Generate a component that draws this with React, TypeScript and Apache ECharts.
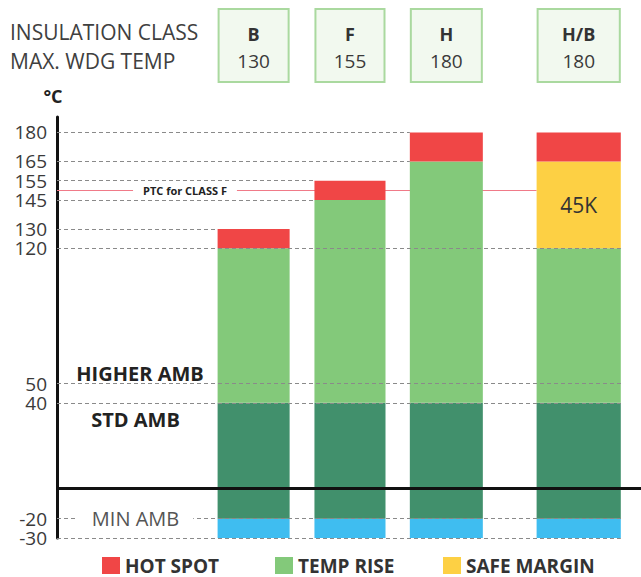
import React, { useEffect, useRef } from "react";
import * as echarts from "echarts";

// ---------- data ----------
const classes = ["B", "F", "H", "H/B"];
const maxWdgTemp = [130, 155, 180, 180];
const hotSpot = [10, 10, 15, 15];
const safeMargin = [0, 0, 0, 45];
const tempRise = [80, 105, 125, 80];
const stdAmbient = 40;
const higherAmbient = 50;
const minAmbient = -20;
const lowestTemp = -30;
const ptcClassF = 150;
const baselineTemp = -4;
const yTickLabels = [180, 165, 155, 145, 130, 120, 50, 40, -20, -30];
const noteTexts = ["HIGHER AMB", "STD AMB", "MIN AMB", "PTC for CLASS F"];
const noteTemps = [55, 31.5, minAmbient, ptcClassF];

// ---------- layout (x in slot units of the hidden value axis) ----------
const slotCenter = [2.02, 3.01, 4.0, 5.36];
const slotWidth = [0.74, 0.73, 0.75, 0.865];
const noteSlot = [0.853, 0.807, 0.807, 1.315];

const FONT = "'Open Sans', 'DejaVu Sans', sans-serif";
const COLORS = {
  cold: "#3fbdf0",
  ambient: "#41906c",
  rise: "#83c97a",
  margin: "#fdd044",
  hot: "#f04646",
};

const riseTop = tempRise.map((r) => stdAmbient + r);
const rect = (i: number, lo: number, hi: number) => [slotCenter[i], lo, hi, slotWidth[i], i];

const coldRows = classes.map((_, i) => rect(i, lowestTemp, minAmbient));
const ambientRows = classes.map((_, i) => rect(i, minAmbient, stdAmbient));
const riseRows = classes.map((_, i) => rect(i, stdAmbient, riseTop[i]));
const marginRows = classes
  .map((_, i) => rect(i, riseTop[i], riseTop[i] + safeMargin[i]))
  .filter((r) => r[2] > r[1]);
const hotRows = classes.map((_, i) => rect(i, maxWdgTemp[i] - hotSpot[i], maxWdgTemp[i]));

const lastIdx = classes.length - 1;
const fullRight = slotCenter[lastIdx] + slotWidth[lastIdx] / 2;
const minBody = Math.min(...riseTop);
const guideEnd = (level: number) => {
  if (level <= minBody) return fullRight;
  const i = maxWdgTemp.findIndex((m) => m >= level);
  return slotCenter[i] - slotWidth[i] / 2;
};

const barRender = (withLabel: boolean) => (params: any, api: any) => {
  const x = api.value(0);
  const lo = api.value(1);
  const hi = api.value(2);
  const w = api.value(3);
  const idx = api.value(4);
  const p1 = api.coord([x - w / 2, hi]);
  const p2 = api.coord([x + w / 2, lo]);
  const children: any[] = [
    {
      type: "rect",
      shape: { x: p1[0], y: p1[1], width: p2[0] - p1[0], height: p2[1] - p1[1] },
      style: { fill: api.visual("color") },
    },
  ];
  if (withLabel) {
    children.push({
      type: "text",
      x: (p1[0] + p2[0]) / 2,
      y: (p1[1] + p2[1]) / 2,
      style: {
        text: `${safeMargin[idx]}K`,
        align: "center",
        verticalAlign: "middle",
        fontSize: 21,
        fontFamily: FONT,
        fill: "#333",
      },
    });
  }
  return { type: "group", children };
};

const barSeries = (name: string, rows: any[], color: string, withLabel = false) => ({
  name,
  type: "custom",
  data: rows,
  encode: { x: 0, y: [1, 2] },
  itemStyle: { color },
  z: 2,
  silent: true,
  renderItem: barRender(withLabel),
});

export default function App() {
  const ref = useRef<HTMLDivElement>(null);
  useEffect(() => {
    if (!ref.current) return;
    const chart = echarts.init(ref.current, null, { renderer: "svg" });

    const guideLines = yTickLabels.map((lv) => [
      { coord: [0, lv] },
      { coord: [guideEnd(lv), lv] },
    ]);

    const option: any = {
      animation: false,
      backgroundColor: "#ffffff",
      grid: { left: 57, right: 0, top: 117, bottom: 39 },
      xAxis: {
        type: "value",
        min: 0,
        max: 6,
        show: false,
      },
      yAxis: {
        type: "value",
        min: lowestTemp,
        max: 188,
        name: "°C",
        nameLocation: "end",
        nameGap: 12,
        nameTextStyle: {
          fontFamily: FONT,
          fontSize: 18,
          fontWeight: "bold",
          color: "#222",
          align: "center",
          padding: [0, 8, 0, 0],
        },
        axisLine: { show: true, lineStyle: { color: "#111", width: 3 } },
        axisTick: { show: false },
        splitLine: { show: false },
        axisLabel: {
          customValues: yTickLabels,
          margin: 10,
          fontFamily: FONT,
          fontSize: 19,
          lineHeight: 16,
          color: "#3a3a3a",
          hideOverlap: false,
          showMinLabel: true,
          showMaxLabel: true,
        },
      },
      legend: [
        { name: "HOT SPOT", left: 102 },
        { name: "TEMP RISE", left: 275 },
        { name: "SAFE MARGIN", left: 443 },
      ].map((l) => ({
        data: [l.name],
        left: l.left,
        top: 556,
        padding: 0,
        icon: "rect",
        itemWidth: 18,
        itemHeight: 17,
        selectedMode: false,
        textStyle: { fontFamily: FONT, fontSize: 19, fontWeight: "bold", color: "#333", lineHeight: 17 },
      })),
      series: [
        // PTC line (behind bars)
        {
          type: "line",
          data: [],
          silent: true,
          z: 1,
          markLine: {
            z: 1,
            silent: true,
            symbol: "none",
            label: { show: false },
            lineStyle: { color: "#f07a88", width: 1, type: "solid" },
            data: [[{ coord: [0, ptcClassF] }, { coord: [slotCenter[lastIdx] - slotWidth[lastIdx] / 2, ptcClassF] }]],
          },
        },
        barSeries("COLD", coldRows, COLORS.cold),
        barSeries("AMBIENT", ambientRows, COLORS.ambient),
        barSeries("TEMP RISE", riseRows, COLORS.rise),
        barSeries("SAFE MARGIN", marginRows, COLORS.margin, true),
        barSeries("HOT SPOT", hotRows, COLORS.hot),
        // dashed guides + baseline (above bars)
        {
          type: "line",
          data: [],
          silent: true,
          z: 5,
          markLine: {
            silent: true,
            symbol: "none",
            label: { show: false },
            lineStyle: { color: "#8a8a8a", width: 1, type: [4, 3] },
            data: [
              ...guideLines,
              [
                { coord: [0, baselineTemp], lineStyle: { color: "#111", width: 3, type: "solid" } },
                { coord: [6, baselineTemp] },
              ],
            ],
          },
        },
        // header boxes
        {
          type: "custom",
          data: classes.map((_, i) => [slotCenter[i], slotWidth[i], i]),
          encode: { x: 0, y: 1 },
          clip: false,
          silent: true,
          z: 10,
          renderItem: (params: any, api: any) => {
            const x = api.value(0);
            const w = api.value(1);
            const i = api.value(2);
            const l = api.coord([x - w / 2, 0])[0];
            const r = api.coord([x + w / 2, 0])[0];
            const cx = (l + r) / 2;
            return {
              type: "group",
              children: [
                {
                  type: "rect",
                  shape: { x: l + 1, y: 9, width: r - l - 2, height: 73 },
                  style: { fill: "#f2f9ef", stroke: "#aad99f", lineWidth: 2 },
                },
                {
                  type: "text",
                  x: cx,
                  y: 34,
                  style: {
                    text: classes[i],
                    align: "center",
                    verticalAlign: "middle",
                    fontSize: 18,
                    fontWeight: "bold",
                    fontFamily: FONT,
                    fill: "#333",
                  },
                },
                {
                  type: "text",
                  x: cx,
                  y: 61,
                  style: {
                    text: String(maxWdgTemp[i]),
                    align: "center",
                    verticalAlign: "middle",
                    fontSize: 19,
                    fontFamily: FONT,
                    fill: "#3a3a3a",
                  },
                },
              ],
            };
          },
        },
        // notes
        {
          type: "custom",
          data: noteTexts.map((_, i) => [noteSlot[i], noteTemps[i], i]),
          encode: { x: 0, y: 1 },
          clip: false,
          silent: true,
          z: 10,
          renderItem: (params: any, api: any) => {
            const i = api.value(2);
            const p = api.coord([api.value(0), api.value(1)]);
            const styles: any[] = [
              { fontSize: 20, fontWeight: "bold", fill: "#222" },
              { fontSize: 20, fontWeight: "bold", fill: "#222" },
              { fontSize: 20, fill: "#555", backgroundColor: "#fff", padding: [1, 14] },
              { fontSize: 11, fontWeight: "bold", fill: "#222", backgroundColor: "#fff", padding: [1, 10] },
            ];
            return {
              type: "text",
              x: p[0],
              y: p[1],
              style: {
                text: noteTexts[i],
                align: "center",
                verticalAlign: "middle",
                fontFamily: FONT,
                ...styles[i],
              },
            };
          },
        },
      ],
      graphic: [
        {
          type: "text",
          left: 10,
          top: 21,
          style: { text: "INSULATION CLASS", fontSize: 21, fontFamily: FONT, fill: "#404040" },
        },
        {
          type: "text",
          left: 10,
          top: 50,
          style: { text: "MAX. WDG TEMP", fontSize: 21, fontFamily: FONT, fill: "#404040" },
        },
      ],
    };
    chart.setOption(option);
    return () => chart.dispose();
  }, []);
  return (
    <div
      ref={ref}
      style={{ position: "fixed", left: 0, top: 0, width: 641, height: 577 }}
    />
  );
}
